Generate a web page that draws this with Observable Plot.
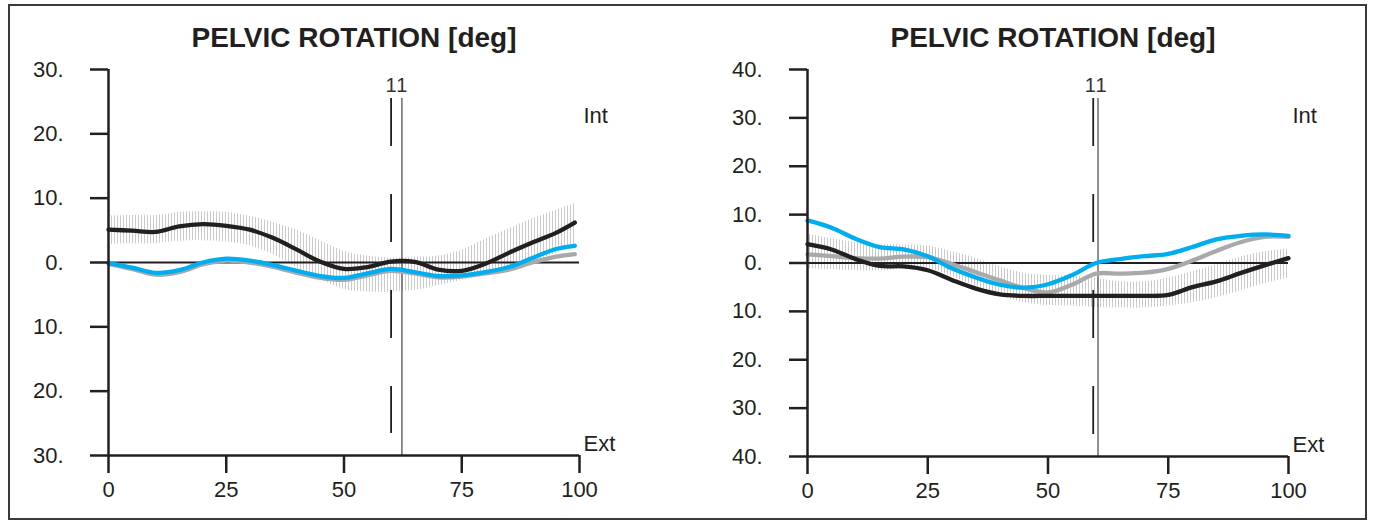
<!DOCTYPE html>
<html>
<head>
<meta charset="utf-8">
<script src="https://cdn.jsdelivr.net/npm/d3@7"></script>
<script src="https://cdn.jsdelivr.net/npm/@observablehq/plot@0.6"></script>
<style>
  html, body { margin: 0; padding: 0; background: #fff; }
  #wrap { position: relative; width: 1373px; height: 523px; overflow: hidden; }
  #frame { position: absolute; left: 8px; top: 4px; width: 1355px; height: 512px; border: 2px solid #3a3a3a; }
  .panel { position: absolute; top: 0; }
  .panel svg { overflow: visible; }
</style>
</head>
<body>
<div id="wrap">
  <div id="frame"></div>
  <div class="panel" id="left" style="left:0px"></div>
  <div class="panel" id="right" style="left:686px"></div>
</div>
<script>
// ---------- data ----------
const title = "PELVIC ROTATION [deg]";
const xTicks = [0, 25, 50, 75, 100];
const leftYTicks = [-30, -20, -10, 0, 10, 20, 30];
const rightYTicks = [-40, -30, -20, -10, 0, 10, 20, 30, 40];
const eventLabels = ["1", "1"];

// gait cycle (%)
const gaitX = [0, 5, 10, 15, 20, 25, 30, 35, 40, 45, 50, 55, 60, 65, 70, 75, 80, 85, 90, 95, 99];

// left panel
const leftBlack = [5.1, 4.95, 4.75, 5.6, 5.95, 5.7, 5.1, 3.8, 2.0, 0.1, -1.0, -0.7, 0.15, 0.1, -1.1, -1.3, -0.2, 1.5, 3.1, 4.6, 6.2];
const leftBlue  = [-0.1, -0.8, -1.6, -1.2, 0.0, 0.6, 0.3, -0.4, -1.3, -2.1, -2.4, -1.7, -1.0, -1.5, -2.1, -2.0, -1.5, -0.7, 0.7, 2.1, 2.6];
const leftGray  = [-0.2, -1.0, -1.9, -1.5, -0.3, 0.3, 0.0, -0.7, -1.6, -2.4, -2.7, -2.0, -1.3, -1.7, -2.3, -2.2, -1.7, -1.1, 0.0, 0.9, 1.3];
const leftBandHi = [7.2, 7.3, 7.3, 7.8, 7.9, 7.8, 7.2, 6.2, 5.0, 3.4, 1.8, 1.0, 0.7, 0.8, 1.0, 1.9, 3.6, 5.2, 6.8, 8.1, 9.2];
const leftBandLo = [2.8, 2.9, 2.9, 3.3, 3.4, 3.2, 2.6, 1.2, -0.8, -2.6, -4.2, -4.6, -4.6, -4.3, -3.6, -2.8, -2.0, -1.0, 0.2, 1.4, 2.5];
const leftEvents = [60, 62.3];

// right panel
const gaitXR = [0, 5, 10, 15, 20, 25, 30, 35, 40, 45, 50, 55, 60, 65, 70, 75, 80, 85, 90, 95, 100];
const rightBlue  = [8.8, 7.3, 5.0, 3.3, 2.8, 1.4, -1.1, -3.0, -4.5, -5.1, -4.4, -2.5, 0.0, 0.8, 1.4, 1.9, 3.3, 4.9, 5.6, 5.9, 5.6];
const rightBlack = [3.9, 2.8, 0.8, -0.6, -0.7, -1.5, -3.5, -5.3, -6.5, -6.8, -6.8, -6.8, -6.8, -6.8, -6.8, -6.6, -5.0, -3.8, -2.1, -0.5, 1.0];
const rightGray  = [1.8, 1.4, 1.0, 0.9, 1.3, 1.2, -0.2, -1.9, -3.6, -5.2, -6.1, -4.5, -2.2, -2.2, -2.0, -1.2, 0.5, 2.5, 4.3, 5.4, 5.4];
const rightBandHi = [6.0, 5.0, 4.2, 3.8, 3.7, 3.5, 2.4, 1.0, -0.7, -2.1, -2.6, -2.7, -3.2, -3.9, -3.9, -3.1, -1.8, -0.3, 1.2, 2.3, 2.9];
const rightBandLo = [-1.2, -1.4, -1.6, -1.6, -1.3, -1.1, -2.8, -4.8, -6.8, -8.2, -8.8, -8.9, -9.2, -9.3, -9.3, -8.9, -8.2, -7.2, -5.8, -4.3, -3.1];
const rightEvents = [59.4, 60.4];

const BLUE = "#00aeef", GRAY = "#a7a9ac", BLACK = "#231f20";
const FONT = "'Liberation Sans Narrow', 'Arial Narrow', 'Liberation Sans', Arial, sans-serif";

function panel(opts) {
  const {x, black, blue, gray, hi, lo, yTicks, yMax, events, labelDx, margins, width, hatchId, titleDx} = opts;
  const rows = x.map((v, i) => ({x: v, black: black[i], blue: blue[i], gray: gray[i], hi: hi[i], lo: lo[i]}));
  const ev = events.map((v, i) => ({x: v, label: eventLabels[i], dx: labelDx[i]}));
  const svg = Plot.plot({
    width, height: 523,
    marginLeft: margins[0], marginRight: margins[1], marginTop: margins[2], marginBottom: margins[3],
    x: {domain: [0, 100]},
    y: {domain: [-yMax, yMax]},
    style: {fontFamily: FONT, fontSize: "22px", color: BLACK, background: "transparent", overflow: "visible"},
    marks: [
      Plot.areaY(rows, {x: "x", y1: "lo", y2: "hi", fill: `url(#${hatchId})`, curve: "catmull-rom"}),
      Plot.ruleY([0], {stroke: BLACK, strokeWidth: 2}),
      Plot.ruleX([events[0]], {stroke: BLACK, strokeWidth: 1.8, strokeDasharray: "48 48", insetTop: 29, insetBottom: 22}),
      Plot.ruleX([events[1]], {stroke: "#444", strokeWidth: 1.2, insetTop: 29}),
      Plot.text([ev[0]], {x: "x", text: "label", frameAnchor: "top", lineAnchor: "middle", dx: ev[0].dx, dy: 16, fontSize: 20, fill: "#333"}),
      Plot.text([ev[1]], {x: "x", text: "label", frameAnchor: "top", lineAnchor: "middle", dx: ev[1].dx, dy: 16, fontSize: 20, fill: "#333"}),
      Plot.line(rows, {x: "x", y: "gray", stroke: GRAY, strokeWidth: 4.3, curve: "catmull-rom"}),
      Plot.line(rows, {x: "x", y: "black", stroke: BLACK, strokeWidth: 4.3, curve: "catmull-rom"}),
      Plot.line(rows, {x: "x", y: "blue", stroke: BLUE, strokeWidth: 4.3, curve: "catmull-rom"}),
      Plot.ruleX([0], {stroke: BLACK, strokeWidth: 2.5}),
      Plot.ruleY([-yMax], {stroke: BLACK, strokeWidth: 2.5}),
      Plot.axisY({ticks: yTicks, label: null, tickSize: 18, tickPadding: 27, tickFormat: d => Math.abs(d) + ".", fontSize: 22, strokeWidth: 2.5, stroke: BLACK, fill: BLACK}),
      Plot.axisX({ticks: xTicks, label: null, tickSize: 18, tickPadding: 8, fontSize: 22, strokeWidth: 2.5, stroke: BLACK, fill: BLACK}),
      Plot.text(["Int"], {frameAnchor: "top-right", lineAnchor: "middle", textAnchor: "start", dx: 4, dy: 46, fontSize: 22, fill: BLACK}),
      Plot.text(["Ext"], {frameAnchor: "bottom-right", lineAnchor: "middle", textAnchor: "start", dx: 4, dy: -12, fontSize: 22, fill: BLACK}),
      Plot.text([title], {frameAnchor: "top", lineAnchor: "middle", dx: titleDx, dy: -31, fontSize: 28, fontWeight: "bold", fill: BLACK})
    ]
  });
  const defs = d3.select(svg).insert("defs", ":first-child");
  const pat = defs.append("pattern").attr("id", hatchId).attr("patternUnits", "userSpaceOnUse")
    .attr("width", 3).attr("height", 10);
  pat.append("rect").attr("x", 0).attr("y", 0).attr("width", 1).attr("height", 10).attr("fill", "#cacaca");
  return svg;
}

document.getElementById("left").appendChild(panel({
  x: gaitX, black: leftBlack, blue: leftBlue, gray: leftGray, hi: leftBandHi, lo: leftBandLo,
  yTicks: leftYTicks, yMax: 30, events: leftEvents, labelDx: [0, 0], margins: [108, 107, 69, 68], width: 686, hatchId: "hatchL", titleDx: 10
}));
document.getElementById("right").appendChild(panel({
  x: gaitXR, black: rightBlack, blue: rightBlue, gray: rightGray, hi: rightBandHi, lo: rightBandLo,
  yTicks: rightYTicks, yMax: 40, events: rightEvents, labelDx: [-3, 3], margins: [121, 85, 69, 67], width: 687, hatchId: "hatchR", titleDx: 5
}));
</script>
</body>
</html>
